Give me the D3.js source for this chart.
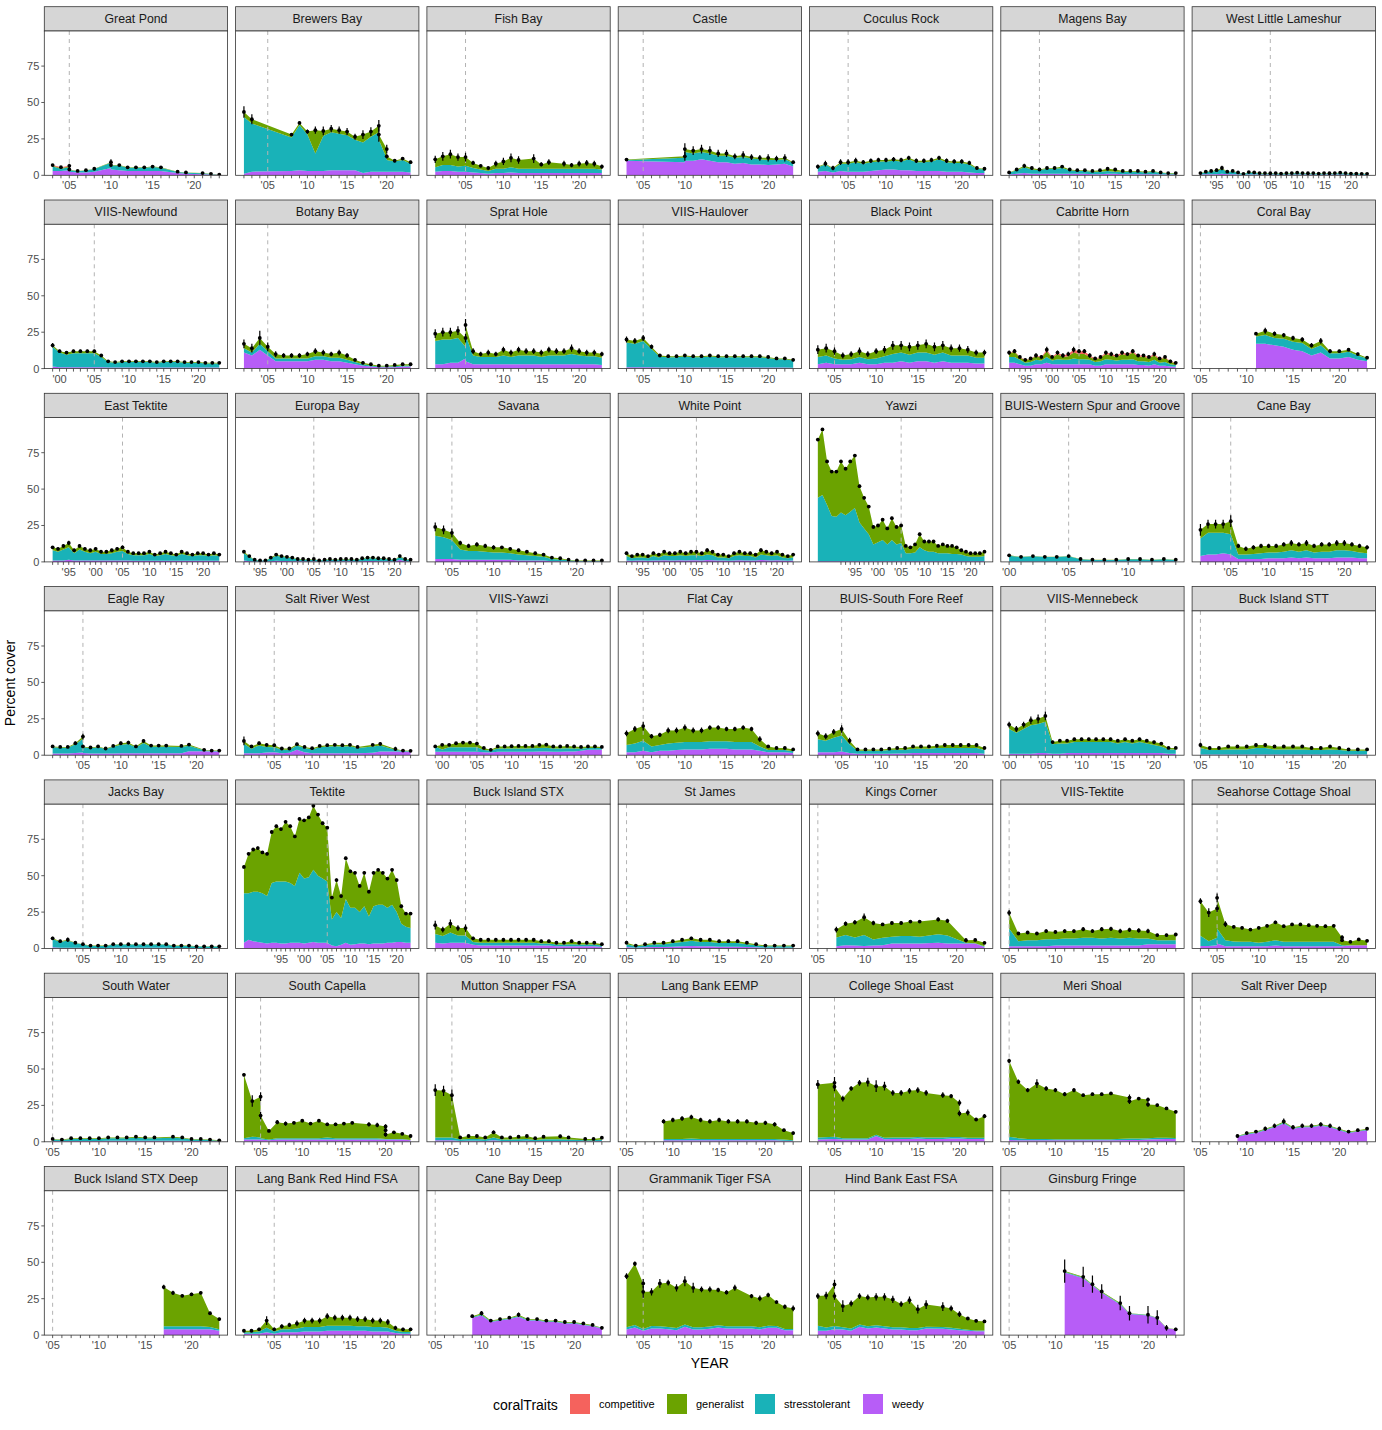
<!DOCTYPE html>
<html>
<head>
<meta charset="utf-8">
<script src="https://cdn.jsdelivr.net/npm/d3@7"></script>
<style>
  body { margin: 0; background: #fff; }
  text { font-family: "Liberation Sans", Arial, Helvetica, sans-serif; }
</style>
</head>
<body>
<svg id="chart"></svg>
<script>
// sites in facet order
siteNames = ["Great Pond","Brewers Bay","Fish Bay","Castle","Coculus Rock","Magens Bay","West Little Lameshur",
  "VIIS-Newfound","Botany Bay","Sprat Hole","VIIS-Haulover","Black Point","Cabritte Horn","Coral Bay",
  "East Tektite","Europa Bay","Savana","White Point","Yawzi","BUIS-Western Spur and Groove","Cane Bay",
  "Eagle Ray","Salt River West","VIIS-Yawzi","Flat Cay","BUIS-South Fore Reef","VIIS-Mennebeck","Buck Island STT",
  "Jacks Bay","Tektite","Buck Island STX","St James","Kings Corner","VIIS-Tektite","Seahorse Cottage Shoal",
  "South Water","South Capella","Mutton Snapper FSA","Lang Bank EEMP","College Shoal East","Meri Shoal","Salt River Deep",
  "Buck Island STX Deep","Lang Bank Red Hind FSA","Cane Bay Deep","Grammanik Tiger FSA","Hind Bank East FSA","Ginsburg Fringe"];

siteYears = [
  [2003,2004,2005,2005,2006,2007,2008,2010,2010,2011,2012,2013,2014,2015,2016,2018,2019,2021,2022,2023],
  [2002,2003,2008,2009,2010,2011,2012,2013,2014,2015,2016,2017,2018,2019,2019,2020,2020,2021,2022,2023],
  [2001,2002,2003,2004,2005,2006,2007,2008,2009,2010,2011,2012,2014,2015,2016,2018,2019,2020,2021,2022,2023],
  [2003,2010,2010,2011,2012,2013,2014,2015,2016,2017,2018,2019,2020,2021,2022,2023],
  [2001,2002,2003,2004,2005,2006,2007,2008,2009,2010,2011,2012,2013,2014,2015,2016,2017,2018,2019,2020,2021,2022,2023],
  [2001,2002,2003,2004,2005,2006,2007,2008,2009,2010,2011,2012,2013,2014,2015,2016,2017,2018,2019,2020,2021,2022,2023],
  [1992,1993,1994,1995,1996,1997,1998,1999,2000,2001,2002,2003,2004,2005,2006,2007,2008,2009,2010,2011,2012,2013,2014,2015,2016,2017,2018,2019,2020,2021,2022,2023],
  [1999,2000,2001,2002,2003,2004,2005,2006,2007,2008,2009,2010,2011,2012,2013,2014,2015,2016,2017,2018,2019,2020,2021,2022,2023],
  [2002,2003,2004,2005,2006,2007,2008,2009,2010,2011,2012,2013,2014,2015,2016,2017,2018,2019,2020,2021,2022,2023],
  [2001,2002,2003,2004,2005,2005,2006,2007,2008,2009,2010,2011,2012,2013,2014,2015,2016,2017,2018,2019,2020,2021,2022,2023],
  [2003,2004,2005,2006,2007,2008,2009,2010,2011,2012,2013,2014,2015,2016,2017,2018,2019,2020,2021,2022,2023],
  [2003,2004,2005,2006,2007,2008,2009,2010,2011,2012,2013,2014,2015,2016,2017,2018,2019,2020,2021,2022,2023],
  [1992,1993,1994,1995,1996,1997,1998,1999,2000,2001,2002,2003,2004,2005,2006,2007,2008,2009,2010,2011,2012,2013,2014,2015,2016,2017,2018,2019,2020,2021,2022,2023],
  [2011,2012,2013,2014,2015,2016,2017,2018,2019,2020,2021,2022,2023],
  [1992,1993,1994,1995,1996,1997,1998,1999,2000,2001,2002,2003,2004,2005,2006,2007,2008,2009,2010,2011,2012,2013,2014,2015,2016,2017,2018,2019,2020,2021,2022,2023],
  [1992,1993,1994,1995,1996,1997,1998,1999,2000,2001,2002,2003,2004,2005,2006,2007,2008,2009,2010,2011,2012,2013,2014,2015,2016,2017,2018,2019,2020,2021,2022,2023],
  [2003,2004,2005,2006,2007,2008,2009,2010,2011,2012,2013,2014,2015,2016,2017,2018,2019,2020,2021,2022,2023],
  [1992,1993,1994,1995,1996,1997,1998,1999,2000,2001,2002,2003,2004,2005,2006,2007,2008,2009,2010,2011,2012,2013,2014,2015,2016,2017,2018,2019,2020,2021,2022,2023],
  [1987,1988,1989,1990,1991,1992,1993,1994,1995,1996,1997,1998,1999,2000,2001,2002,2003,2004,2005,2006,2007,2008,2009,2010,2011,2012,2013,2014,2015,2016,2017,2018,2019,2020,2021,2022,2023],
  [2000,2001,2002,2003,2004,2005,2006,2007,2008,2009,2010,2011,2012,2013,2014],
  [2001,2002,2003,2004,2005,2006,2007,2008,2009,2010,2011,2012,2013,2014,2015,2016,2017,2018,2019,2020,2021,2022,2023],
  [2001,2002,2003,2004,2005,2005,2006,2007,2008,2009,2010,2011,2012,2013,2014,2015,2016,2018,2019,2021,2022,2023],
  [2001,2002,2003,2004,2005,2006,2007,2008,2009,2010,2011,2012,2013,2014,2015,2016,2018,2019,2021,2022,2023],
  [1999,2000,2001,2002,2003,2004,2005,2006,2007,2008,2009,2010,2011,2012,2013,2014,2015,2016,2017,2018,2019,2020,2021,2022,2023],
  [2003,2004,2005,2006,2007,2008,2009,2010,2011,2012,2013,2014,2015,2016,2017,2018,2019,2020,2021,2022,2023],
  [2002,2003,2004,2005,2006,2007,2008,2009,2010,2011,2012,2013,2014,2015,2016,2017,2018,2019,2020,2021,2022,2023],
  [2000,2001,2002,2003,2004,2005,2006,2007,2008,2009,2010,2011,2012,2013,2014,2015,2016,2017,2018,2019,2020,2021,2022,2023],
  [2005,2006,2007,2008,2009,2010,2011,2012,2013,2014,2015,2016,2017,2018,2019,2020,2021,2022,2023],
  [2001,2002,2003,2004,2005,2006,2007,2008,2009,2010,2011,2012,2013,2014,2015,2016,2017,2018,2019,2020,2021,2022,2023],
  [1987,1988,1989,1990,1991,1992,1993,1994,1995,1996,1997,1998,1999,2000,2001,2002,2003,2004,2005,2006,2007,2008,2009,2010,2011,2012,2013,2014,2015,2016,2017,2018,2019,2020,2021,2022,2023],
  [2001,2002,2003,2004,2005,2006,2007,2008,2009,2010,2011,2012,2013,2014,2015,2016,2017,2018,2019,2020,2021,2022,2023],
  [2005,2006,2007,2008,2009,2010,2011,2012,2013,2014,2015,2016,2017,2018,2019,2020,2021,2022,2023],
  [2007,2008,2009,2010,2011,2012,2013,2014,2015,2016,2018,2019,2021,2022,2023],
  [2005,2006,2007,2008,2009,2010,2011,2012,2013,2014,2015,2016,2017,2018,2019,2020,2021,2022,2023],
  [2003,2004,2005,2005,2006,2007,2008,2009,2010,2011,2012,2013,2014,2015,2016,2017,2018,2019,2020,2020,2021,2022,2023],
  [2005,2006,2007,2008,2009,2010,2011,2012,2013,2014,2015,2016,2018,2019,2020,2021,2022,2023],
  [2003,2004,2005,2005,2006,2007,2008,2009,2010,2011,2012,2013,2014,2015,2016,2018,2019,2020,2020,2020,2021,2022,2023],
  [2003,2004,2005,2006,2007,2008,2009,2010,2011,2012,2013,2014,2015,2016,2018,2019,2021,2022,2023],
  [2009,2010,2011,2012,2013,2014,2015,2016,2017,2018,2019,2020,2021,2022,2023],
  [2003,2005,2005,2006,2007,2008,2009,2010,2011,2012,2013,2014,2015,2016,2018,2019,2020,2020,2021,2022,2023],
  [2005,2006,2007,2008,2009,2010,2011,2012,2013,2014,2015,2016,2018,2018,2019,2020,2020,2021,2022,2023],
  [2009,2010,2011,2012,2013,2014,2015,2016,2017,2018,2019,2020,2021,2022,2023],
  [2017,2018,2019,2020,2021,2022,2023],
  [2001,2002,2003,2004,2005,2006,2007,2008,2009,2010,2011,2012,2013,2014,2015,2016,2017,2018,2019,2020,2021,2022,2023],
  [2009,2010,2011,2012,2013,2014,2015,2016,2017,2018,2019,2020,2021,2022,2023],
  [2003,2004,2005,2005,2006,2007,2008,2009,2010,2011,2012,2013,2014,2015,2016,2018,2019,2020,2021,2022,2023],
  [2003,2004,2005,2005,2006,2007,2008,2009,2010,2011,2012,2013,2014,2015,2016,2018,2019,2020,2021,2022,2023],
  [2011,2013,2014,2015,2017,2018,2020,2021,2022,2023]
];

// percent cover by trait, same order as siteYears
weedy = [
  [3,3,3.5,2.5,2,2,2.5,5,4,3.5,3,3,3,3,3,1.5,1,0.8,0.5,0.3],
  [1,2.5,3,3.5,3,3,3,3.5,3.5,3.5,3.5,1.5,2.5,2.5,2.5,2.5,2.5,2.5,2.5,2],
  [2.5,3,3,2.5,2.5,2,1.5,1,1.5,1.5,2,1.5,1.5,1.5,1.5,1.5,1.5,1.5,1.5,1.5,1.5],
  [10,9,10,10,11,10,9,9,8,8.5,7.5,7.5,7,7.5,8,6],
  [2.5,3,2,3,2.5,2.5,2.5,3,3.5,4,4,3.5,3.5,3,3,3,3,2.5,2.5,2.5,2,1.5,1.5],
  [0.5,1,1.5,1,1,1,1,1,1,1,1,0.8,0.8,1,1,0.8,0.8,0.8,0.7,0.7,0.5,0.5,0.5],
  [0.5,0.7,0.8,0.8,1,0.7,0.8,0.6,0.4,0.6,0.6,0.5,0.5,0.5,0.5,0.4,0.5,0.5,0.6,0.5,0.5,0.5,0.4,0.5,0.5,0.5,0.6,0.5,0.4,0.4,0.3,0.3],
  [1.5,1,1,1,1,1,1,1,0.8,0.8,0.8,0.8,0.8,0.8,0.8,0.8,0.8,0.8,0.8,0.8,0.8,0.8,0.8,0.8,0.8],
  [11,9,13,9,5,5,5,5,5,6,6,5,5,4,3,2,1.5,1,1,1,1.5,1.5],
  [3,3,4,4,7,5,3,3,3,3,3,3,3,3,3,3,3,3,3,3,3,3,3,2.5],
  [1,1,1,1,0.8,0.8,0.8,0.8,0.8,0.8,0.8,0.8,0.8,0.8,0.8,0.8,0.8,0.8,0.7,0.7,0.6],
  [3,4,3,3,3,4,3,3,4,4,5,4,5,5,4,5,4,4,4,3.5,3.5],
  [4,4,3,2,2,3,3,4,3,3,3,3,3,3,3,3,2,2,3,3,3,3,3,3,2.5,2.5,2,3,2,2,1.5,1.2],
  [17,17,16,15,13,12,9,11,7,7,8,6,5],
  [1,1,1,1.5,1,1,1,1,1,1,1,1,1,1,1,0.8,0.8,0.8,0.8,0.8,0.8,0.8,0.8,0.8,0.8,0.8,0.8,0.8,0.8,0.8,0.8,0.8],
  [1,0.5,0.3,0.2,0.2,0.5,0.8,0.7,0.6,0.5,0.4,0.4,0.3,0.4,0.2,0.3,0.4,0.3,0.4,0.4,0.4,0.3,0.5,0.6,0.6,0.5,0.5,0.4,0.3,1.5,0.5,0.3],
  [2,2,2,1.5,1.5,1.5,1.5,1.5,1.5,1.5,1,1,1,1,0.5,0.5,0.3,0.2,0.2,0.2,0.2],
  [1,0.8,1,1,0.8,1,1,1.2,1,1,1.2,1,1.2,1.2,1,1.3,1.2,1,1,0.8,1,1.2,1,1,1,1.3,1.2,1,1.2,1,0.8,1],
  [0.5,0.5,0.5,0.5,0.5,0.5,0.5,0.5,0.5,0.5,0.5,0.5,0.5,0.5,0.5,0.5,0.5,0.5,0.5,0.5,0.5,0.5,0.5,0.5,0.5,0.5,0.5,0.5,0.5,0.5,0.5,0.5,0.5,0.5,0.5,0.5,0.5],
  [0.2,0.2,0.2,0.2,0.2,0.2,0.2,0.2,0.2,0.2,0.2,0.2,0.2,0.2,0.2],
  [4,5,5,6,5,2,2,2,2,2.5,2.5,2.5,3,2.5,3,2.5,2.5,2.5,3,3,3,2.5,2.5],
  [1.2,1.2,1.2,1.5,1.8,1.5,1.2,1.2,1.2,1.2,1.4,1.4,1.4,1.4,1.4,1.4,1.4,1.4,2.7,2.7,2.5,2.5],
  [1.4,1.4,1.4,1.8,2,1.4,1.6,3.7,2,1.4,1.4,1.4,1.4,1.4,1.4,1.4,1.6,2.5,2.5,2.3,2.3],
  [2.3,2.3,2.3,2.3,2.3,2.3,2.3,2,1.8,2.3,2.3,2.3,2.3,2.3,2.3,2.5,2.5,2.3,2.3,2.5,2.5,3,3.7,3.7,3.7],
  [2,2,3,2,3,3,3.5,4,4,4,4.5,4.5,4.5,4,4,4,3,2,2,2,1.5],
  [2,2,2,2.5,1.5,1,1,1,1,1,1.2,1.2,1.5,1.5,1.5,1.5,1.5,1.5,1.5,1.5,1.5,1],
  [1,1,1,1,1.5,1.5,1,1,1.5,1.5,1.5,1.5,1.5,1.5,1.5,1.5,1.5,1.5,1.5,1.5,1.5,1.5,1,1],
  [0.5,0.5,0.5,0.5,0.5,0.5,0.5,0.5,0.5,0.5,0.5,0.5,0.5,0.5,0.5,0.5,0.5,0.5,0.5],
  [0.8,0.5,0.5,0.5,0.5,0.3,0.3,0.3,0.5,0.5,0.5,0.5,0.5,0.5,0.5,0.5,0.3,0.3,0.3,0.3,0.3,0.3,0.3],
  [4,6,5,4.5,4,3.5,4,4,3.5,3.5,4,4,4,3.5,4,4.5,4,4,4,2,1.5,2.5,4,2.5,3,3.5,3.5,3,3.5,3.5,3.5,4,4,4.5,4.5,4,4],
  [4,3.5,4,4,4,2.5,2,2,2,2,2,2,2,2,2,2,1.5,1.5,1.5,1.5,1.5,1.5,1],
  [1,0.5,0.8,1,1,1.2,1.5,1.8,1.5,1.5,1.2,1.2,1.2,1,0.8,0.5,0.5,0.5,0.5],
  [1.6,2.3,2,1.8,2,2.3,3.4,3.4,3.4,3.4,3.9,3.4,3.4,3.4,1.1],
  [1.5,1.5,1.5,1.5,1.5,2,2,2,2,2,2,2,2,2,2,3,3,3,3],
  [1.8,1.8,2.3,3.4,1.6,1.6,1.6,1.6,1.6,1.6,2,1.6,1.6,1.6,1.6,1.6,1.6,1.6,1.6,1.6,2,2.3,2.3],
  [0.5,0.4,0.6,0.6,0.6,0.6,0.7,0.7,0.7,0.8,0.7,0.7,0.8,0.7,0.5,0.5,0.4,0.3],
  [1.5,1.5,1.5,1.5,1,1.5,1.5,1.5,1.5,1.5,1.5,1.5,1.5,1.5,1.5,1.5,1.5,1.5,1.5,1.5,1.5,1.5,1],
  [1,1,1,0.5,0.7,0.7,0.5,1,0.5,0.5,0.6,0.7,0.4,0.6,0.6,0.5,0.4,0.4,0.5],
  [1,1,1,1,1,1,1,1,1,1,1,1,1,0.8,0.6],
  [1.5,2,2,1.5,1.5,1.5,1.5,4,1.8,2,2,2,2.3,2,2,2.3,2.3,2.3,2,2,2],
  [1.2,1,1,1,1,1,1,1,1,1,1,1,1.3,1.3,1.3,1.5,1.5,1.8,2,2],
  [3.5,5,6,8,10,12.5,9,10,10,11,10,8,6,7,8],
  [4,4,4,4,4,4,3],
  [1,1,1,2,1,2,2,2,2.5,2.5,2.5,3,3,3,3,3,3,2.5,2.5,2.5,1.5,1,1],
  [12,13.5,9,10,11,12.5,10,10,9,9,8,8,7,6,4.5],
  [3.9,5.3,3,3,4.6,4.6,4.1,3.4,5.7,3.9,3.9,4.4,5.3,4.6,4.6,4.6,3.9,5,5,3.4,3.4],
  [3,3,4.1,4.1,3.9,3,5.7,4.6,5.3,4.6,3.9,3.9,3.4,3.4,4.6,4.4,3.9,3.4,3,2.7,2.7],
  [43,39,34,29,21,14.5,13.5,11.5,4.7,3.8]
];

stressTolerant = [
  [3,1.5,2,1.2,0.8,1.3,1.8,3.7,2.7,3.2,2.2,2.2,2.2,2.7,2.2,0.8,0.8,0.6,0.4,0.1],
  [39,33,23,31,25,12,24,26,25,24,21,21,24,27,22,9,8,7,8,6],
  [3,4,4,3.5,4,3,2.5,2,3,3,3.5,3,3,3,3,3,3,3,3,3,2.5],
  [0.5,3,6,5,5,5,4.5,4.5,4,4,4,3.5,3.5,3,3,2.5],
  [3,4.5,2.5,5,5.5,6.5,5.5,6,6,5.5,6,6,7.5,6,6,6.5,8,6.5,6,6,5.5,3,2.5],
  [1.2,2.5,4,3,2.5,3.5,3.5,4,2.5,2,2,1.7,1.7,2,1.5,1.7,1.7,1.7,1.3,1.8,1.2,0.7,0.7],
  [0.8,1.5,1.8,2.2,3.4,1.5,1.8,1.2,0.5,1.4,1.2,0.8,0.8,0.7,0.8,0.7,0.8,0.8,1,0.8,0.7,0.8,0.7,0.8,0.7,0.8,1,0.8,0.7,0.7,0.6,0.6],
  [13.5,10,8.5,9.5,9.5,9.5,9.5,7,3.7,3.2,3.7,3.7,3.7,3.7,3.7,3.2,3.7,3.7,3.7,3.2,3.2,3.2,2.7,2.7,2.7],
  [3,2,4,3,2,2,2,2,2,2.5,2.5,2.5,2.5,2,1.5,1,0.7,0.5,0.5,0.7,0.7,0.7],
  [16,17,16,17,8,18,6,5,5,5,6,5,6,6,6,5,6,6,6,7,6,5.5,5.5,5],
  [17,16,18,12.5,7.4,7,7,7.5,7,7,7.5,7,7,7,7,7,7,6.5,5.7,5.7,4.9],
  [5,5,4,3,3.5,4,3.5,4,4.5,6,6,5.5,6,6,5.5,6,5,5,5,4,4],
  [4,4,3,2,2.5,3,2.5,4,2.5,3.5,3,3,4,3.5,3.5,3,2.5,3,3.5,3,2.5,3,3,3.5,2.5,2.5,2.5,3,2,2.5,1.5,1.2],
  [5,6,5,5.5,5.5,5.5,4.5,5,3.5,3.5,3.5,3,2],
  [7,6,7.5,8.5,5,7.5,6,5,6,4.5,4.5,5,6,6.5,4.5,3.7,3.7,3.7,4.7,3.2,3.7,4.7,3.7,3.2,4.7,3.7,3.2,3.7,3.7,3.2,3.7,3.2],
  [5,3,1,0.7,0.7,2,3.5,2.8,2.4,2.1,1.3,1.3,1,1.3,0.7,1,1.3,1,1.3,1.3,1.3,1,1.6,1.9,1.9,1.6,1.6,1.3,1,2,1.2,1],
  [16,15,13,7,6,6,5.5,5,5,4.5,4,3.5,3,2.5,1.5,1.2,0.8,0.5,0.5,0.5,0.5],
  [3,1.7,2,2,1.7,3,2,3.3,3,3,3.3,3,3.3,3.3,3,3.7,3.3,2,2,1.7,3,3.3,3,3,2,3.7,3.3,3,3.3,2,1.7,2],
  [43.5,45.5,38.5,31,30.5,33.5,31.5,34,36.5,26.5,22.5,18.5,11.5,13,14.5,11.5,14.5,11.5,12.5,5.5,5.5,6,9.5,7.5,6.5,6.5,5.5,5.5,5.5,5,5,4.5,3.5,3,3,3,3.5],
  [4.1,3.1,3.6,3.1,3.1,3.6,1.6,1.1,1.1,1.1,1.6,1.6,1.1,1.6,1.1],
  [12,15,15,14,14,3,3,3.5,4,4,4,4.5,5,4.5,5,4,4.5,4.5,5,5,4.5,4,3.5],
  [4.3,4,4,6,9.5,4,3.6,4.3,3,4.6,5.8,6.3,4,6.9,4.4,4.4,4.4,4.2,3.8,0.7,0.4,0.4],
  [6.4,3.1,5.3,3.8,3.4,2.4,2.2,2.9,2.9,2.6,4,4.5,4.7,4.5,4.7,3.5,4.3,4.1,1.3,0.6,0.4],
  [3.7,1.7,3.2,3.2,3.2,3.2,3.2,1.5,1.4,2.3,2.3,2.3,2.3,2.3,2.5,2.5,2.7,2.3,2.3,2.3,2.1,1.6,1.3,1.3,1.3],
  [5,6,7,4,4,5,5,5,5,5,5,5,5,5,5,5,3,1.5,1.5,1.5,1.2],
  [9,8,10,11,6,2,2,2,2,2.5,2.5,2.5,3,3,3,3.5,3.5,3.5,3.5,3.5,3.5,2.5],
  [17,14.5,17,19.5,20,21.5,6.5,7,6.5,7.5,7.5,7.5,7.5,7.5,7.5,6.5,7.5,6.5,7.5,6.5,5.5,4.5,3,3],
  [4.5,3,3,3.5,3.5,3.5,4.5,4.5,3.5,3.5,3.5,3.5,3,3,3.5,3,2.5,2.5,2.5],
  [5.7,4,5,3.2,2.2,1.5,1.5,1.5,2.2,2.2,2.2,2.2,2.2,2.2,2.2,2.2,1.5,1.5,1.5,1,1,1,1],
  [34,32,34,34.5,34,32.5,41,42,42.5,42.5,41,39,48,44.5,45,49.5,46,44,42,18,23.5,18.5,30,25.5,25,21.5,25.5,19,25.5,26.5,26.5,24,26,20.5,12.5,11,10],
  [6,5,7,5,5,2,2,2,2,2,2,2,2,2,1.5,1.5,1.2,1.2,1.5,1.2,1.2,1.2,1],
  [2,1,1.5,2,2,2.5,3,3.5,3,3,2.5,2.5,2.5,2,1.5,1,1,1,1],
  [6,6.9,5.6,7.4,4.2,5,4.6,5.1,5.1,4.6,5.9,5.5,0.5,0.2,0.5],
  [12.2,3.5,4.2,4.2,4.9,4.4,4.9,4.9,5.3,5.3,4.9,5.3,4.9,5.3,4.9,3.9,2.7,2.7,2.7],
  [6.9,3.2,5,10.3,4.1,3.2,3,3,2.3,3,3.7,3,3,3,3,3,3,3,0.7,0.7,0.3,0,0],
  [1.1,0.8,1.4,1.4,1.4,1.4,1.7,1.7,1.7,2,1.7,1.7,2,1.7,1.1,1.1,0.8,0.5],
  [1,2,1.5,1,0.5,1,1,1,1,1,1,1.5,1,1,1,1,1,0.5,0.5,0.5,0.5,0.5,0.3],
  [2,2,2,1,1.3,1.3,1,2,1,1,1.2,1.3,0.8,1.2,1.2,1,0.6,0.6,1],
  [1,1,1,1.2,1,1,1,1,1,1,1,1,1,0.7,0.5],
  [1.5,1.5,1.5,1,1,1,1,0.8,1,1,1,1,1,1,1,1,1,1,0.8,0.8,0.8],
  [2.2,1.5,1,1,1,0.8,0.8,0.8,0.8,0.8,0.8,0.8,1,1,1,1,1,1,0.8,0.6],
  [0.3,0.5,0.5,0.5,0.5,0.8,0.5,0.5,0.5,0.5,0.5,0.5,0.5,0.5,0.5],
  [2,2,2,2,2,1.5,1],
  [1,1,1.5,3,1.5,2,2,2.5,3,3,3,3.5,3.5,3.5,3.5,3,3,3,3,2.5,1.5,1.2,1.2],
  [0.5,0.7,0.5,0.5,0.5,0.7,0.5,0.5,0.5,0.5,0.5,0.5,0.5,0.5,0.3],
  [1.5,1.6,1.2,1.2,1.6,1.5,1.5,1.5,1.5,1.5,1.5,1.5,1.5,1.5,1.5,1.5,1.5,1.5,1.2,0.8,0.8],
  [3.4,2.3,2.1,2.1,1.5,1.6,1.5,1.5,1.5,1.5,1.5,1.5,1.5,1.5,1.2,1.2,1.2,1,0.6,0.5,0.5],
  [0.5,0.5,0.5,0.5,0.5,0.3,0.3,0.3,0.2,0.1]
];

generalist = [
  [0.5,0.5,0.5,0.3,0.2,0.2,0.2,0.3,0.3,0.3,0.3,0.3,0.3,0.3,0.3,0.2,0.2,0.1,0.1,0.1],
  [3.5,3,2,1.5,2,16,3.5,2.5,2.5,2.5,2,5.5,3.5,4.5,3.5,6.5,2.5,0.5,1,1],
  [5.5,6,7.5,6.5,6,3.5,2.5,2,3.5,5,6.5,6,7,3,4.5,3.5,2.5,3.5,4,3.5,2],
  [0.3,1,2,2,2,2,1.5,1.5,1,1.5,1,1,1.5,1,1,0.5],
  [0.5,0.5,0.5,1,1,1,1,1,1,1,1,1,1,1,1,1,1,1,1,1,1,0.5,0.5],
  [0.3,0.5,1,1,0.5,0.5,0.5,1,0.5,0.5,0.5,0.5,1,1.5,1.5,0.5,0.5,0.5,0.5,0.5,0.3,0.3,0.3],
  [0.2,0.3,0.4,0.5,0.6,0.3,0.4,0.2,0.1,0.2,0.2,0.2,0.2,0.2,0.2,0.1,0.2,0.2,0.2,0.2,0.2,0.2,0.1,0.2,0.2,0.2,0.2,0.2,0.1,0.1,0.1,0.1],
  [1,1,1.5,1.5,1.5,1.5,1.5,1,0.5,0.5,0.5,0.5,0.5,0.5,0.5,0.5,0.5,0.5,0.5,0.5,0.5,0.5,0.5,0.5,0.5],
  [3,3,4,3,3,2,2,2,3,3.5,2.5,2.5,3.5,3,1.5,1,0.8,0.5,0.5,0.8,0.8,0.8],
  [5,5,5,5,6,7,3,2,3,2,4,3,4,3,3,3,4,3,3,4,3,2.5,2.5,2.5],
  [2,2,2,1.5,0.8,0.7,0.7,0.7,0.7,0.7,0.7,0.7,0.7,0.7,0.7,0.7,0.7,0.7,0.6,0.6,0.5],
  [5,5,5,3,3.5,4,3.5,5,4.5,6,5,5.5,5,6,5.5,5,5,5,4,3.5,3.5],
  [2.5,3.5,1.7,1.7,2.2,2.5,2,4,2,3.5,2,2.5,4,3.5,3.5,2,2,2.5,3.5,3,2.5,4,3,4.5,3.2,3.2,2.7,3,2.5,3,1.7,1.3],
  [2,3,3,2.5,2.5,2.5,2.5,3,1.5,1.5,1.5,1,0.5],
  [2,2,2.5,3,2,2.5,2,2,2,1.5,1.5,2,2,2.5,1.5,1.5,1.5,1.5,1.5,1,1.5,1.5,1.5,1,1.5,1.5,1,1.5,1.5,1,1.5,1],
  [1,0.5,0.2,0.1,0.1,0.5,0.7,0.5,0.5,0.4,0.3,0.3,0.2,0.3,0.1,0.2,0.3,0.2,0.3,0.3,0.3,0.2,0.4,0.5,0.5,0.4,0.4,0.3,0.2,0.5,0.3,0.2],
  [6,5,5,4.5,3.5,4.5,4,3.5,3.5,3,3,2.5,2,1.5,1,0.8,0.4,0.3,0.3,0.3,0.3],
  [2,1.5,2,2,1.5,2,2,2.5,2,2,2.5,2,2.5,2.5,2,3,2.5,2,2,1.5,2,2.5,2,2,2,3,2.5,2,2.5,2,1.5,2],
  [40,45,30,30.5,31,35,32,34.5,36,25,21,19,12,11.5,14,11,15,12,12,5,4,5.5,9,6,7,7,5,6,5,5.5,4.5,3,3,2.5,2.5,2.5,3],
  [0.2,0.2,0.2,0.2,0.2,0.2,0.2,0.2,0.2,0.2,0.2,0.2,0.2,0.2,0.2],
  [6,6,6,6,9,6,4,4.5,5,4.5,4.5,5,5,5,5,4.5,5,5,5,5,4.5,4.5,4],
  [0.5,0.5,0.5,0.7,1.5,0.5,0.5,0.5,0.4,0.6,1,1,0.6,1.5,0.8,0.8,0.8,0.8,0.8,0.3,0.3,0.3],
  [2,1.5,1.5,1.5,1.5,0.8,0.8,1,0.8,0.8,1,1,1,1,1,0.8,1.2,1.2,0.5,0.3,0.3],
  [0,3.1,1.6,2.7,3.2,3.2,2.5,1.5,0.5,1.4,1.4,1.6,1.8,1.8,1.6,2.1,2.1,1.4,1.4,1.6,1.4,1.1,1,1,0.7],
  [8,10,10,7,7,9,8.5,10,8,8,9.5,9.5,8.5,9,10,9,5,2.5,1.5,1.5,1.3],
  [4,3,4,4.5,2.5,1,1,1,1,1,1.3,1.3,1.5,1.5,1.5,1.5,2,2,2,2,2,1.5],
  [3,2.5,3,3.5,3.5,4,1.5,2,2,2,2,2,2,2,2,2,2,2,2,2,2,2,1,1],
  [2,1.5,1.5,2,2,2,2,2,2,2,2,2,1.5,1.5,2,1.5,1,1,1],
  [0.5,0.5,0.5,0.3,0.3,0.2,0.2,0.2,0.3,0.3,0.3,0.3,0.3,0.3,0.3,0.3,0.2,0.2,0.2,0.2,0.2,0.2,0.2],
  [18,27,29,30,28,29,35,38,36,41,39,34,37,40,41,44,42,38,37,15,22,15,28,25,24,18,23,17,23,24,22,20,24,22,12,9,10],
  [6,4.5,6,5,5,2.5,2,2,2,2,2,2,2,2,1.5,1.5,1.3,1.3,2,1.3,1.3,1.3,1],
  [1,0.5,0.7,1,1,1.3,1.5,1.7,1.5,1.5,1.3,1.3,1.3,1,0.7,0.5,0.5,0.5,0.5],
  [5.4,7.8,10.4,12.3,11.3,9.2,9.5,9,10,10.5,10.2,10.1,1.8,2.3,2.3],
  [10.8,5.3,5.3,4.6,5.6,5,5.1,5.1,6,4.7,6.4,6.2,5.1,5.5,5.5,5.1,3.5,3.5,3.9],
  [23.8,19.7,20.2,21.1,11,10.1,9.6,8.4,10.3,11,12.3,10.7,11.9,11.9,11.4,11,10.7,11,5.3,3.4,2.3,3.9,3],
  [0.4,0.3,0.5,0.5,0.5,0.5,0.6,0.6,0.6,0.7,0.6,0.6,0.7,0.6,0.4,0.4,0.3,0.2],
  [43.5,24.5,28,15.5,6,11,10,10.5,12,10,12,9,9.5,10,10.5,9.5,9,8.5,6,3,4.5,3.5,2.7],
  [32.5,32,29,1.5,2,2,1.5,3.5,1.5,1.5,1.7,2,1.3,1.7,2,1.5,1,1,1.3],
  [12,13,14,14.8,13,12,13,12,12,12,11,11,10,6.5,4.9],
  [36.4,37,34.3,27.2,34.1,38,38.5,33.4,35.4,30.6,30.6,32,32.2,30.6,29,28.1,23.5,16.2,17.3,12.5,14.8],
  [52.2,38.7,33.5,38,34.6,33.7,30.9,33.7,30.2,30.9,30.9,31.4,28.1,25.6,27.4,26.5,23.1,22.4,20.1,18],
  [0.2,0.5,0.5,0.5,0.5,0.7,0.5,0.5,0.5,0.5,0.5,0.5,0.5,0.5,0.5],
  [27,23,21,22,23,9.5,7],
  [1,1,1.5,5,1.5,2,3,3.5,4.5,4.5,4.5,6.5,5.5,5.5,5.5,5,5,4.5,4.5,4,2,1.8,1.8],
  [0.5,0.8,0.5,0.5,0.5,0.8,0.5,0.5,0.5,0.5,0.5,0.5,0.5,0.5,0.2],
  [35.1,42.1,31.3,25.5,23.5,29.4,30.4,27.6,29.8,27.1,26,25.5,24.2,23.2,26.4,20.7,19.8,21,16.5,15.3,14.1],
  [20.4,21.9,28.6,20.6,14.5,17.1,19.6,19.8,19.5,20.2,19.1,15.9,19.1,12.9,15.2,13.9,13.2,10,7.8,6.6,6.2],
  [0.5,0.5,0.5,0.5,0.5,0.2,0.2,0.2,0.1,0.1]
];

// competitive cover is only visible at two sites
competitive = [
  [0.5,0.6,0.5,0,0,0,0,0,0,0,0,0,0,0,0,0,0,0,0,0],
  [],[],[],[],[],[],[],[],[],[],[],
  [0.5,0.5,0.3,0.3,0.3,0.5,0.5,1,0.5,1,1,1.5,2,2,2,1,0.5,0.5,1,1,1,1,1,1,0.8,0.8,0.8,1,0.5,0.5,0.3,0.3],
  [],[],[],[],[],[],[],[],[],[],[],[],[],[],[],[],[],[],[],[],[],[],[],[],[],[],[],[],[],[],[],[],[],[],[],[]
];

// standard error of total cover
stdErr = [
  [0.8,0.8,1.5,1,0.6,0.6,0.6,2,1,0.6,0.6,0.6,0.6,0.6,0.6,1,0.6,0.8,0.4,0.3],
  [4,3.5,1,1,1.5,2.5,3,2.5,2.5,2.5,2,3,3,4,5,3,1.5,1,1,1],
  [2.5,3,3,2.5,3,1.5,1,0.8,2,2.5,3,2.5,3,1.5,2,2,1.5,2,2,2,1.5],
  [1,3,4,3,3,3,2.5,2.5,2,2.5,2,2,2.5,2,2.5,1],
  [1.5,2,1.5,2,2,2,1.5,1.5,1.5,1.5,1.5,1.5,1.5,1.5,1.5,1.5,1.5,1.5,1.5,1.5,1.5,1,1],
  [0.8,1,1.5,1,1,1,1,1,1,0.8,0.8,0.8,0.8,1,0.8,0.8,0.8,0.8,0.8,0.8,0.6,0.6,0.6],
  [0.5,0.8,1,1.2,1.5,0.8,0.8,0.6,0.4,0.6,0.6,0.5,0.5,0.5,0.5,0.4,0.5,0.5,0.6,0.5,0.5,0.5,0.4,0.5,0.5,0.5,0.6,0.5,0.4,0.4,0.3,0.3],
  [1.5,1,1,1,1,1,1,1,0.6,0.6,0.6,0.6,0.6,0.6,0.6,0.6,0.6,0.6,0.6,0.6,0.6,0.6,0.6,0.6,0.6],
  [3,3,5,3,2,1.5,1.5,1.5,1.5,2,2,1.5,2,1.5,1,1,0.8,0.5,0.5,0.5,0.5,0.5],
  [3,3,3,3,3,4,2,1.5,2,1.5,2,2,2,2,2,2,2,2,2,2.5,2,2,2,1.5],
  [2,2,2,1.5,1,1,1,1,1,1,1,1,1,1,1,1,1,1,1,1,1],
  [3,3,2.5,2,2,2.5,2,2,2.5,3,3,3,3,3,3,3,2.5,2.5,2.5,2,2],
  [1.5,1.5,1,1,1,1.5,1,2,1,1.5,1.5,1.5,2,1.5,1.5,1.5,1,1,1.5,1.5,1,1.5,1,1.5,1,1,1,1.5,1,1,1,0.8],
  [1,2,1.5,1.5,1.5,1.5,1.5,2,1.5,1,1,1,1],
  [1,1,1.2,1.5,1,1.2,1,1,1,1,1,1,1,1.2,1,0.8,0.8,0.8,1,0.8,0.8,1,0.8,0.8,1,0.8,0.8,0.8,0.8,0.8,0.8,0.8],
  [1,0.8,0.5,0.4,0.4,0.6,0.8,0.7,0.6,0.6,0.5,0.5,0.4,0.5,0.4,0.4,0.5,0.4,0.5,0.5,0.5,0.4,0.5,0.6,0.6,0.5,0.5,0.5,0.4,1,0.5,0.4],
  [3,3,3,1.5,1.5,1.5,1.5,1.5,1,1,1,1,1,1,0.5,0.5,0.5,0.3,0.3,0.3,0.3],
  [1,0.8,1,1,0.8,1,1,1.2,1,1,1.2,1,1.2,1.2,1,1.3,1.2,1,1,0.8,1,1.2,1,1,1,1.3,1.2,1,1.2,1,0.8,1],
  [1,1,1,1,1,1,1,1,1,1,1,1,1,1,1,1,1,1,1,0.8,0.8,0.8,1,0.8,0.8,0.8,0.8,0.8,0.8,0.8,0.8,0.6,0.6,0.6,0.6,0.6,0.6],
  [0.6,0.5,0.5,0.5,0.5,0.5,0.4,0.3,0.3,0.3,0.4,0.4,0.3,0.4,0.3],
  [4,3,3,3,4,1.5,1.5,1.5,1.5,1.5,1.5,1.5,2,1.5,2,1.5,1.5,1.5,2,2,1.5,1.5,1.5],
  [0.8,0.8,0.8,1.2,2,1,0.8,0.8,0.8,0.8,1.2,1.2,0.8,1.2,0.8,0.8,0.8,0.8,1,0.8,0.6,0.6],
  [3,1,1.2,1,1,0.8,0.8,1,0.8,0.8,0.8,0.8,0.8,0.8,0.8,0.8,0.8,1.2,1.5,0.8,0.8],
  [0.8,0.8,0.8,0.8,0.8,0.8,0.8,0.8,0.8,0.8,0.8,0.8,0.8,0.8,0.8,0.8,0.8,0.8,0.8,0.8,0.8,0.8,0.8,0.8,0.8],
  [2,2,3,1.5,1.5,2,2,2,2,2,1.5,1.5,1.5,1.5,1.5,1.5,2,1,1,1,1],
  [2,2,2,2.5,2,1,1,1,1,1,1,1,1,1,1,1,1,1,1,1,1,1],
  [2,2,2,2.5,3,3,1,1,1,1,1,1,1,1,1,1,1,1,1,1,1,1,0.8,0.8],
  [1.5,1,1,1,1,1,1,1,1,1,1,1,1,1,1,1,1,1,1],
  [1,1,1.5,1,0.8,0.5,0.5,0.5,0.6,0.6,0.6,0.6,0.6,0.6,0.6,0.6,0.5,0.5,0.5,0.4,0.4,0.4,0.4],
  [1,1,1,1,1,1,1,1,1,1,1,1,1,1,1,1,1,1,1,1,1,1,1,1,1,1,1,1,1,1,1,1,1,1,1,1,1],
  [3,2,3,2,2.5,1,1,1,1,1,1,1,1,1,1,1,1,1,1,1,1,1,0.8],
  [1,0.5,0.8,1,1,1,1,1,1,1,1,1,1,1,0.8,0.5,0.5,0.5,0.5],
  [2,1.5,1.5,2.5,1.5,1,1,1,1,1,1.5,1.5,1.5,1,0.8],
  [2,1,1,1,1.2,1.2,1.2,1.2,1.5,1.2,1.5,1.5,1.5,1.5,1.5,1.5,1,1,1],
  [2,3,2.5,3,2,1,1,1,1,1,1,1,1,1,1,1,1,1,1.5,1,0.8,0.8,0.8],
  [0.5,0.5,0.5,0.5,0.5,0.5,0.5,0.5,0.5,0.5,0.5,0.5,0.5,0.5,0.5,0.5,0.5,0.5],
  [1,4,3,2.5,1,1.5,1.5,1,1,1,1,1,1,1,1,1.5,1.5,1.5,1.5,1.5,1,0.8,0.8],
  [4,3.5,4,0.8,0.8,0.8,0.8,1.2,0.8,0.8,0.8,0.8,0.8,0.8,1,0.8,0.8,0.8,0.8],
  [1.5,1.5,1.5,1.5,1.5,1.5,1.5,1.5,1.5,1.5,1.5,1.5,1.5,1,1],
  [3,4,3,2,1.5,2,3,4,3,2,2,2,2,2,2,1.5,2,2,2,1,1.5],
  [1.5,1.5,1.5,3,1.5,1.5,1.5,1.5,1,1,1,1,2,2,1,1.5,1.5,1,1,1],
  [1,1,1,1.5,1.5,2,1.5,1.5,1.5,1.5,1.5,1.5,1,1,1],
  [1.5,1.5,1,1,1,1,1],
  [0.8,0.8,1,3,1,1.5,1.5,2,2,2,2,2,2,2,2,2,2,2,2,2,1.5,1,1],
  [1,1.5,1,1,1,1.5,1,1,1,1,1,1,1,1,1],
  [2,1.5,3,4,2.5,3,2,2.5,3.5,3.5,2,2,1.5,1.5,2,1.5,2,1.5,1,1.5,2],
  [2,2.5,3,2.5,4,2,2,2,2.5,2.5,2.5,2,2.5,3,3,3,2,2,1,1,1],
  [8,7,6,5,5,5,6,5,2,1]
];

// stacked bottom -> top, as ggplot stacks them
traitKeys = ["weedy", "stresstolerant", "generalist", "competitive"];
legendKeys = ["competitive", "generalist", "stresstolerant", "weedy"];
traitColors = {competitive: "#F5625D", generalist: "#6BA300", stresstolerant: "#19B2B8", weedy: "#B75DF7"};
yTicks = [0, 25, 50, 75];
tickYears = d3.range(1992, 2024);
refYear = 2005;

width = 1382;
height = 1430;
ncol = 7;
left0 = 44.3;
pitchX = 191.3;
panelW = 183.3;
stripTop0 = 6.7;
stripH = 24.3;
pitchY = 193.3;
panelH = 144.3;

y = d3.scaleLinear().domain([0, 99.1]).range([panelH, 0]);

function draw() {
  const svg = d3.select("#chart")
      .attr("width", width)
      .attr("height", height)
      .attr("viewBox", `0 0 ${width} ${height}`);
  const defs = svg.append("defs");

  siteNames.forEach(function(name, i) {
    const col = i % ncol, row = Math.floor(i / ncol);
    const px = left0 + col * pitchX;
    const sy = stripTop0 + row * pitchY;
    const py = sy + stripH;

    const rows = siteYears[i].map((yr, j) => ({
      year: yr,
      weedy: weedy[i][j] ?? 0,
      stresstolerant: stressTolerant[i][j] ?? 0,
      generalist: generalist[i][j] ?? 0,
      competitive: competitive[i][j] ?? 0,
      se: stdErr[i][j] ?? 0
    }));
    rows.forEach(d => d.total = d.weedy + d.stresstolerant + d.generalist + d.competitive);

    // the 2005 reference line is part of every panel's range
    const lo = Math.min(d3.min(siteYears[i]), refYear);
    const hi = Math.max(d3.max(siteYears[i]), refYear);
    const pad = (hi - lo) * 0.05;
    const x = d3.scaleLinear().domain([lo - pad, hi + pad]).range([0, panelW]);

    // strip
    const strip = svg.append("g").attr("transform", `translate(${px},${sy})`);
    defs.append("clipPath").attr("id", "sclip" + i)
      .append("rect").attr("width", panelW).attr("height", stripH);
    strip.append("rect")
        .attr("width", panelW).attr("height", stripH)
        .attr("fill", "#D6D6D6").attr("stroke", "#333333").attr("stroke-width", 0.8);
    strip.append("text")
        .attr("clip-path", `url(#sclip${i})`)
        .attr("x", panelW / 2).attr("y", stripH / 2 + 4.3)
        .attr("text-anchor", "middle")
        .attr("font-size", 12.3)
        .attr("fill", "#1A1A1A")
        .text(name);

    // panel
    const g = svg.append("g").attr("transform", `translate(${px},${py})`);
    defs.append("clipPath").attr("id", "pclip" + i)
      .append("rect").attr("width", panelW).attr("height", panelH);
    g.append("rect").attr("width", panelW).attr("height", panelH).attr("fill", "#fff");

    const plot = g.append("g").attr("clip-path", `url(#pclip${i})`);
    const series = d3.stack().keys(traitKeys)(rows);
    const area = d3.area()
        .x(d => x(d.data.year))
        .y0(d => y(d[0]))
        .y1(d => y(d[1]));
    plot.selectAll("path.layer")
      .data(series)
      .join("path")
        .attr("class", "layer")
        .attr("fill", d => traitColors[d.key])
        .attr("d", area);

    plot.append("line")
        .attr("x1", x(refYear)).attr("x2", x(refYear))
        .attr("y1", 0).attr("y2", panelH)
        .attr("stroke", "#B3B3B3").attr("stroke-width", 1)
        .attr("stroke-dasharray", "4,4");

    plot.selectAll("line.err")
      .data(rows)
      .join("line")
        .attr("class", "err")
        .attr("x1", d => x(d.year)).attr("x2", d => x(d.year))
        .attr("y1", d => y(d.total - d.se)).attr("y2", d => y(d.total + d.se))
        .attr("stroke", "#000").attr("stroke-width", 1.2);

    plot.selectAll("circle")
      .data(rows)
      .join("circle")
        .attr("cx", d => x(d.year))
        .attr("cy", d => y(d.total))
        .attr("r", 1.9)
        .attr("fill", "#000");

    g.append("rect")
        .attr("width", panelW).attr("height", panelH)
        .attr("fill", "none").attr("stroke", "#333333").attr("stroke-width", 0.8);

    // x axis: yearly ticks inside the data range, labels every 5 years
    const ticks = tickYears.filter(t => t >= lo && t <= hi);
    const ax = g.append("g").attr("transform", `translate(0,${panelH})`);
    ax.selectAll("line")
      .data(ticks)
      .join("line")
        .attr("x1", d => x(d)).attr("x2", d => x(d))
        .attr("y1", 0).attr("y2", 3)
        .attr("stroke", "#333333").attr("stroke-width", 0.8);
    ax.selectAll("text")
      .data(ticks.filter(t => t % 5 === 0))
      .join("text")
        .attr("x", d => x(d)).attr("y", 14)
        .attr("text-anchor", "middle")
        .attr("font-size", 11)
        .attr("fill", "#4D4D4D")
        .text(d => "'" + String(d).slice(2));

    // y axis on first column
    if (col === 0) {
      const ay = g.append("g");
      ay.selectAll("line")
        .data(yTicks)
        .join("line")
          .attr("x1", -3).attr("x2", 0)
          .attr("y1", d => y(d)).attr("y2", d => y(d))
          .attr("stroke", "#333333").attr("stroke-width", 0.8);
      ay.selectAll("text")
        .data(yTicks)
        .join("text")
          .attr("x", -5).attr("y", d => y(d) + 4)
          .attr("text-anchor", "end")
          .attr("font-size", 11)
          .attr("fill", "#4D4D4D")
          .text(d => d);
    }
  });

  // axis titles
  svg.append("text")
      .attr("transform", `translate(15,683) rotate(-90)`)
      .attr("text-anchor", "middle")
      .attr("font-size", 14)
      .attr("fill", "#000")
      .text("Percent cover");
  svg.append("text")
      .attr("x", left0 + (ncol * pitchX - (pitchX - panelW)) / 2)
      .attr("y", 1368)
      .attr("text-anchor", "middle")
      .attr("font-size", 14)
      .attr("fill", "#000")
      .text("YEAR");

  // legend
  const legend = svg.append("g");
  legend.append("text")
      .attr("x", 493).attr("y", 1410)
      .attr("font-size", 14).attr("fill", "#000")
      .text("coralTraits");
  const keyX = [570, 667, 755, 863];
  legendKeys.forEach(function(k, j) {
    legend.append("rect")
        .attr("x", keyX[j]).attr("y", 1394)
        .attr("width", 20).attr("height", 20)
        .attr("fill", traitColors[k]);
    legend.append("text")
        .attr("x", keyX[j] + 29).attr("y", 1408)
        .attr("font-size", 11).attr("fill", "#000")
        .text(k);
  });
}
draw();
</script>
</body>
</html>
